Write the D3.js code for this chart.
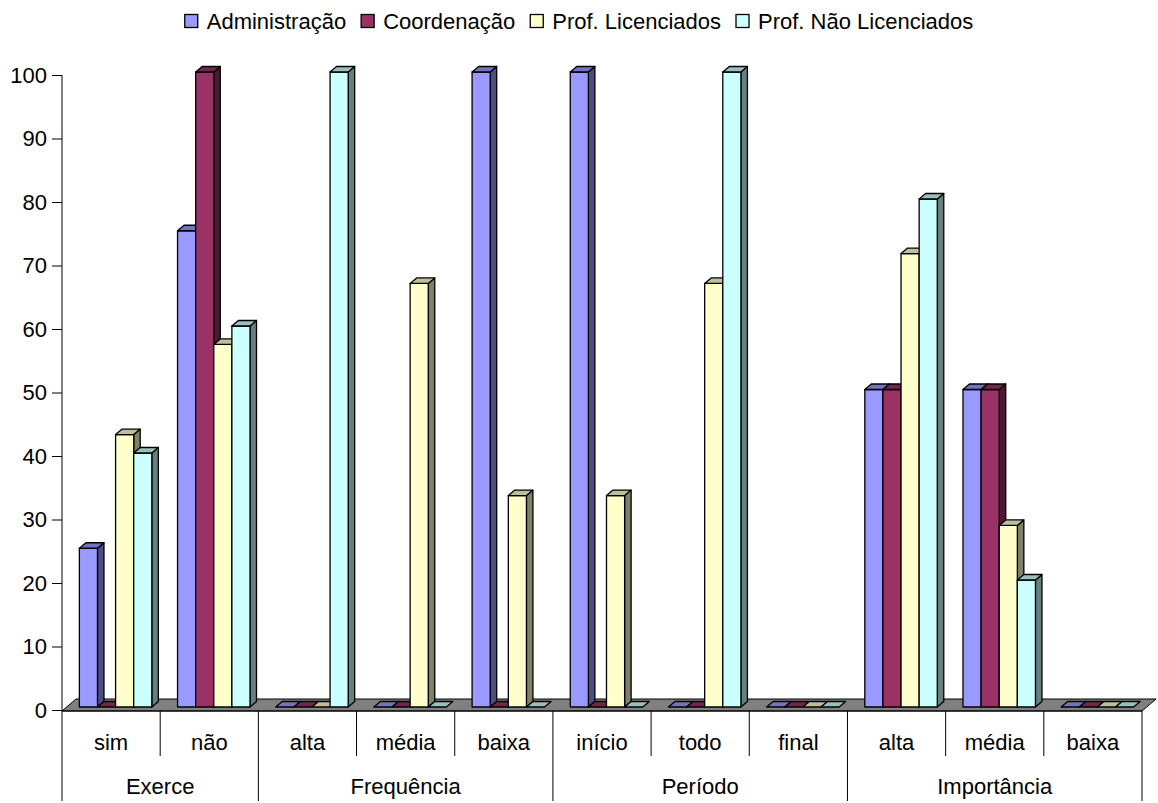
<!DOCTYPE html>
<html>
<head>
<meta charset="utf-8">
<script src="https://cdn.jsdelivr.net/npm/d3@7"></script>
<style>
  html, body { margin: 0; padding: 0; background: #fff; }
  svg text { font-family: "Liberation Sans", Arial, sans-serif; fill: #000; }
</style>
</head>
<body>
<svg id="chart" width="1158" height="803"></svg>
<script>
// Category groups and their sub-categories
const groups = ["Exerce", "Frequência", "Período", "Importância"];
const categories = ["sim", "não", "alta", "média", "baixa", "início", "todo", "final", "alta", "média", "baixa"];
const categoryGroup = [0, 0, 1, 1, 1, 2, 2, 2, 3, 3, 3];

const seriesNames = ["Administração", "Coordenação", "Prof. Licenciados", "Prof. Não Licenciados"];
const seriesColors = ["#9999FF", "#993366", "#FFFFCC", "#CCFFFF"];

// Percentages per series, one per category
const administracao = [25, 75, 0, 0, 100, 100, 0, 0, 50, 50, 0];
const coordenacao   = [0, 100, 0, 0, 0, 0, 0, 0, 50, 50, 0];
const profLic       = [42.9, 57.1, 0, 66.7, 33.3, 33.3, 66.7, 0, 71.4, 28.6, 0];
const profNaoLic    = [40, 60, 100, 0, 0, 0, 100, 0, 80, 20, 0];
const seriesValues = [administracao, coordenacao, profLic, profNaoLic];

const yTicks = [0, 10, 20, 30, 40, 50, 60, 70, 80, 90, 100];

const svg = d3.select("#chart");

const left = 62, right = 1142, y0 = 710, yTop = 75;
const floorDx = 14, floorDy = -12;     // floor depth offset
const barShiftX = 4.5, barShiftY = -3; // bar placement inside the floor depth
const depthDx = 6.5, depthDy = -5.5;   // bar depth

const keys = categories.map((c, i) => i);
const x0 = d3.scaleBand().domain(keys).range([left, right]).padding(0);
const x1 = d3.scaleBand().domain(d3.range(seriesNames.length))
  .range([0, x0.bandwidth()]).paddingInner(0).paddingOuter(0.71);
const y = d3.scaleLinear().domain([0, 100]).range([y0, yTop]);

function shade(c, k) {
  const r = d3.rgb(c);
  return d3.rgb(r.r * k, r.g * k, r.b * k).formatHex();
}

// Floor
const fy = y(0) + 1;
svg.append("path")
  .attr("d", `M${left},${fy} L${right},${fy} L${right + floorDx},${fy + floorDy} L${left + floorDx},${fy + floorDy} Z`)
  .attr("fill", "#808080").attr("stroke", "#000").attr("stroke-width", 1);

// Y axis
const yAxis = svg.append("g");
yAxis.append("line").attr("x1", left).attr("x2", left).attr("y1", y(100)).attr("y2", fy)
  .attr("stroke", "#000");
yAxis.selectAll("line.tick").data(yTicks).enter().append("line")
  .attr("class", "tick")
  .attr("x1", left - 10).attr("x2", left)
  .attr("y1", d => y(d) + 0.5).attr("y2", d => y(d) + 0.5)
  .attr("stroke", "#000");
yAxis.selectAll("text").data(yTicks).enter().append("text")
  .attr("x", left - 15).attr("y", d => y(d))
  .attr("dy", "0.36em")
  .attr("text-anchor", "end")
  .attr("font-size", 22)
  .text(d => d);

// Bars
const bars = svg.append("g");
keys.forEach(ci => {
  seriesValues.forEach((vals, si) => {
    const v = vals[ci];
    const bx = x0(ci) + x1(si) + barShiftX;
    const w = x1.bandwidth();
    const yb = y(0) + barShiftY;
    const yt = y(v) + barShiftY;
    const col = seriesColors[si];
    const g = bars.append("g").attr("stroke", "#000").attr("stroke-width", 1.3).attr("stroke-linejoin", "round");
    if (v > 0) {
      // side face
      g.append("path")
        .attr("d", `M${bx + w},${yb} L${bx + w + depthDx},${yb + depthDy} L${bx + w + depthDx},${yt + depthDy} L${bx + w},${yt} Z`)
        .attr("fill", shade(col, 0.5));
      // front face
      g.append("rect").attr("x", bx).attr("y", yt).attr("width", w).attr("height", yb - yt)
        .attr("fill", col);
    }
    // top face
    g.append("path")
      .attr("d", `M${bx},${yt} L${bx + w},${yt} L${bx + w + depthDx},${yt + depthDy} L${bx + depthDx},${yt + depthDy} Z`)
      .attr("fill", shade(col, 0.75));
  });
});

// Category axis with grouped labels
const axis = svg.append("g").attr("stroke", "#000");
axis.append("line").attr("x1", left).attr("x2", right).attr("y1", fy).attr("y2", fy);
const boundaries = d3.range(categories.length + 1);
boundaries.forEach(i => {
  const xx = i < categories.length ? x0(i) : right;
  const isGroupEdge = i === 0 || i === categories.length || categoryGroup[i] !== categoryGroup[i - 1];
  axis.append("line")
    .attr("x1", xx).attr("x2", xx)
    .attr("y1", fy).attr("y2", isGroupEdge ? 801 : 756);
});

svg.append("g").selectAll("text").data(keys).enter().append("text")
  .attr("x", d => x0(d) + x0.bandwidth() / 2)
  .attr("y", 742).attr("dy", "0.36em")
  .attr("text-anchor", "middle").attr("font-size", 22)
  .text(d => categories[d]);

svg.append("g").selectAll("text").data(groups).enter().append("text")
  .attr("x", (g, gi) => {
    const idx = keys.filter(k => categoryGroup[k] === gi);
    return (x0(idx[0]) + x0(idx[idx.length - 1]) + x0.bandwidth()) / 2;
  })
  .attr("y", 786).attr("dy", "0.36em")
  .attr("text-anchor", "middle").attr("font-size", 22)
  .text(d => d);

// Legend
const legend = svg.append("g");
let lx = 0;
const legendGap = 15;
const items = legend.selectAll("g").data(seriesNames).enter().append("g");
items.append("rect").attr("width", 13).attr("height", 13).attr("y", -6.5)
  .attr("fill", (d, i) => seriesColors[i]).attr("stroke", "#000").attr("stroke-width", 1.3);
items.append("text").attr("x", 22).attr("dy", "0.36em").attr("font-size", 22).text(d => d);
items.each(function () {
  d3.select(this).attr("transform", `translate(${lx},0)`);
  lx += this.getBBox().width + legendGap;
});
const totalW = lx - legendGap;
legend.attr("transform", `translate(${(1158 - totalW) / 2},21)`);
</script>
</body>
</html>
